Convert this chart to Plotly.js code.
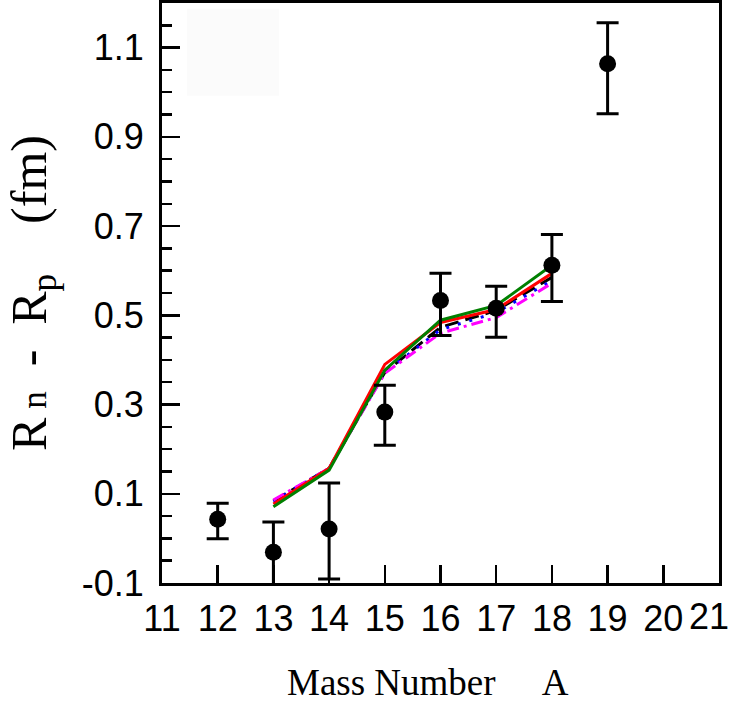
<!DOCTYPE html>
<html>
<head>
<meta charset="utf-8">
<script src="https://cdn.plot.ly/plotly-3.0.1.min.js"></script>
<style>html,body{margin:0;padding:0;background:#fff;}#chart{width:735px;height:710px;}</style>
</head>
<body>
<div id="chart"></div>
<script>
// Experimental data
const massExp = [12, 13, 14, 15, 16, 17, 18, 19];
const dRexp = [0.043, -0.031, 0.021, 0.283, 0.533, 0.516, 0.612, 1.064];
const errPlus = [0.036, 0.068, 0.103, 0.060, 0.061, 0.049, 0.069, 0.092];
const errMinus = [0.044, 0.082, 0.112, 0.074, 0.078, 0.065, 0.081, 0.112];

// Theory curves
const massTh = [13, 14, 15, 16, 17, 18];
const thBlack = [0.084, 0.157, 0.372, 0.473, 0.511, 0.585];
const thBlue = [0.083, 0.157, 0.372, 0.468, 0.506, 0.578];
const thMagenta = [0.086, 0.157, 0.370, 0.460, 0.495, 0.572];
const thRed = [0.077, 0.157, 0.390, 0.484, 0.513, 0.594];
const thGreen = [0.071, 0.153, 0.377, 0.489, 0.522, 0.612];

const xTicks = [11, 12, 13, 14, 15, 16, 17, 18, 19, 20, 21];
const yTicks = [-0.1, 0.1, 0.3, 0.5, 0.7, 0.9, 1.1];

function line(y, color, dash) {
  return {x: massTh, y: y, type: 'scatter', mode: 'lines',
          line: {color: color, width: 3, dash: dash}, hoverinfo: 'skip'};
}

const traces = [
  line(thBlack, '#000000', '14px,7px'),
  line(thBlue, '#0000ff', '3px,9px'),
  line(thMagenta, '#ff00ff', '12px,5px,3px,5px'),
  line(thRed, '#ff0000', 'solid'),
  line(thGreen, '#008000', 'solid'),
  {x: massExp, y: dRexp, type: 'scatter', mode: 'markers',
   marker: {color: '#000', size: 17, symbol: 'circle'},
   error_y: {type: 'data', symmetric: false, array: errPlus, arrayminus: errMinus,
             color: '#000', thickness: 3, width: 11}}
];

const NB = '\u00a0';
const lastTick = xTicks[xTicks.length - 1];
// the last label sits at the frame edge; drawn as an annotation so it stays inside the page, like the reference
const axisTicks = xTicks.slice(0, -1);
const tickFont = {size: 36, family: '"Liberation Sans", Arial, sans-serif', color: '#000'};
const serif = '"Liberation Serif", "Times New Roman", serif';

const layout = {
  width: 735, height: 710,
  margin: {l: 162, r: 16, t: 3, b: 127},
  paper_bgcolor: '#fff', plot_bgcolor: '#fff',
  showlegend: false,
  font: {family: '"Liberation Sans", Arial, sans-serif', color: '#000'},
  shapes: [{type: 'rect', xref: 'paper', yref: 'paper', x0: 0.045, x1: 0.21, y0: 0.84, y1: 0.99,
            fillcolor: '#fbfbfb', line: {width: 0}, layer: 'below'}],
  annotations: [
    {x: lastTick, xref: 'x', y: 0, yref: 'paper', yanchor: 'top', xanchor: 'right',
     xshift: 12, yshift: -11, text: String(lastTick), showarrow: false, font: tickFont},
    {x: 0.4767, xref: 'paper', y: -0.1724, yref: 'paper', xanchor: 'center', yanchor: 'middle',
     text: 'Mass Number' + NB.repeat(5) + 'A', showarrow: false,
     font: {size: 37, family: serif, color: '#000'}}
  ],
  xaxis: {
    range: [11, 21], tickvals: axisTicks, ticktext: axisTicks.map(String),
    ticks: 'inside', ticklen: 18, tickwidth: 2.5, tickcolor: '#000',
    showline: true, linewidth: 3, linecolor: '#000', mirror: true,
    showgrid: false, zeroline: false,
    tickfont: tickFont,
    ticklabelstandoff: 2
  },
  yaxis: {
    range: [-0.1, 1.2], tickvals: yTicks, ticktext: yTicks.map(v => v.toFixed(1)),
    ticks: 'inside', ticklen: 18, tickwidth: 2.5, tickcolor: '#000',
    minor: {dtick: 0.05, tick0: -0.1, ticks: 'inside', ticklen: 10, tickwidth: 2.5, tickcolor: '#000'},
    showline: true, linewidth: 3, linecolor: '#000', mirror: true,
    showgrid: false, zeroline: false,
    tickfont: tickFont,
    ticklabelstandoff: 8,
    title: {text: 'R<span style="font-size:70%">' + NB + 'n</span>' + NB + NB + '-' + NB + NB + 'R<sub>p</sub>' + NB + NB + NB + NB + '(fm)', font: {size: 50, family: serif}, standoff: 20}
  }
};

Plotly.newPlot('chart', traces, layout, {staticPlot: true, displayModeBar: false});
</script>
</body>
</html>
